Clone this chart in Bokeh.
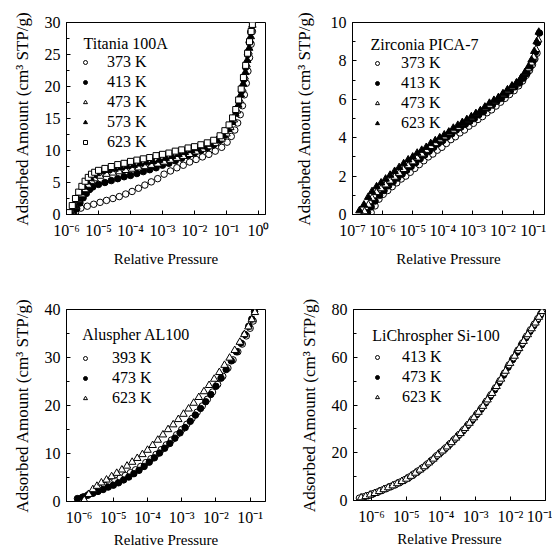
import numpy as np
from bokeh.plotting import figure
from bokeh.models import (Range1d, FixedTicker, SingleIntervalTicker,
                          CustomJSTickFormatter, Legend, LegendItem, Label)
from bokeh.layouts import column, row
from bokeh.embed import file_html
from bokeh.resources import INLINE

FONT = "Liberation Serif"

# ---------------- Titania 100A (log10 relative pressure, cm3 STP/g) ----------------
ti_373_logp = [-5.72, -5.55, -5.35, -5.15, -4.95, -4.75, -4.55, -4.35, -4.15, -3.95, -3.75, -3.55,
               -3.35, -3.15, -2.95, -2.75, -2.55, -2.35, -2.15, -1.95, -1.75, -1.55, -1.35, -1.15,
               -0.98, -0.85, -0.74, -0.65, -0.57, -0.5, -0.44, -0.38, -0.33, -0.28, -0.23, -0.19]
ti_373_amt = [0.3, 1.0, 1.3, 1.6, 1.9, 2.2, 2.5, 2.8, 3.2, 3.6, 4.1, 4.6,
              5.1, 5.6, 6.3, 6.8, 7.3, 7.7, 8.2, 8.6, 9.0, 9.4, 9.9, 10.5,
              11.3, 12.2, 13.2, 14.3, 15.6, 17.0, 18.7, 20.5, 22.4, 24.5, 26.6, 28.6]
ti_413_logp = [-5.78, -5.68, -5.58, -5.48, -5.38, -5.28, -5.18, -5.0, -4.8, -4.6, -4.4, -4.2,
               -4.0, -3.8, -3.6, -3.4, -3.2, -3.0, -2.8, -2.6, -2.4, -2.2, -2.0, -1.8,
               -1.6, -1.4, -1.2, -1.05, -0.92, -0.8, -0.7, -0.61, -0.53, -0.46, -0.4, -0.34,
               -0.29, -0.24, -0.19]
ti_413_amt = [0.1, 0.9, 1.8, 2.6, 3.3, 3.9, 4.3, 4.7, 5.0, 5.3, 5.6, 5.9,
              6.1, 6.4, 6.7, 7.0, 7.3, 7.7, 8.0, 8.4, 8.8, 9.2, 9.6, 10.0,
              10.4, 10.9, 11.6, 12.4, 13.4, 14.6, 16.0, 17.6, 19.3, 21.1, 23.0, 25.0,
              26.9, 28.5, 30.0]
ti_473_logp = [-5.82, -5.72, -5.62, -5.52, -5.42, -5.32, -5.22, -5.12, -4.95, -4.75, -4.55, -4.35,
               -4.15, -3.95, -3.75, -3.55, -3.35, -3.15, -2.95, -2.75, -2.55, -2.35, -2.15, -1.95,
               -1.75, -1.55, -1.35, -1.15, -1.0, -0.88, -0.77, -0.67, -0.58, -0.5, -0.43, -0.37,
               -0.31, -0.26, -0.21]
ti_473_amt = [0.2, 1.2, 2.2, 3.1, 3.9, 4.6, 5.2, 5.6, 6.0, 6.3, 6.5, 6.7,
              6.9, 7.1, 7.3, 7.5, 7.7, 7.9, 8.2, 8.5, 8.8, 9.1, 9.4, 9.8,
              10.2, 10.6, 11.1, 11.8, 12.6, 13.6, 14.8, 16.2, 17.8, 19.6, 21.5, 23.4,
              25.4, 27.2, 29.0]
ti_573_logp = [-5.85, -5.75, -5.65, -5.55, -5.45, -5.35, -5.25, -5.15, -5.05, -4.9, -4.7, -4.5,
               -4.3, -4.1, -3.9, -3.7, -3.5, -3.3, -3.1, -2.9, -2.7, -2.5, -2.3, -2.1,
               -1.9, -1.7, -1.5, -1.3, -1.1, -0.95, -0.83, -0.72, -0.63, -0.55, -0.48, -0.41,
               -0.35, -0.29, -0.24, -0.19]
ti_573_amt = [0.2, 1.3, 2.4, 3.4, 4.3, 5.1, 5.7, 6.1, 6.4, 6.7, 6.9, 7.1,
              7.3, 7.5, 7.7, 7.9, 8.1, 8.3, 8.5, 8.8, 9.1, 9.4, 9.7, 10.0,
              10.3, 10.6, 11.0, 11.6, 12.4, 13.3, 14.4, 15.7, 17.1, 18.7, 20.4, 22.2,
              24.1, 26.0, 27.8, 29.6]
ti_623_logp = [-5.92, -5.82, -5.72, -5.62, -5.52, -5.42, -5.32, -5.22, -5.12, -5.0, -4.8, -4.6,
               -4.4, -4.2, -4.0, -3.8, -3.6, -3.4, -3.2, -3.0, -2.8, -2.6, -2.4, -2.2,
               -2.0, -1.8, -1.6, -1.4, -1.2, -1.05, -0.92, -0.81, -0.71, -0.62, -0.54, -0.47,
               -0.4, -0.34, -0.28, -0.23, -0.19]
ti_623_amt = [0.3, 1.4, 2.5, 3.5, 4.4, 5.2, 5.8, 6.3, 6.6, 6.9, 7.2, 7.5,
              7.8, 8.0, 8.3, 8.5, 8.7, 8.9, 9.2, 9.4, 9.6, 9.9, 10.1, 10.4,
              10.6, 10.9, 11.2, 11.6, 12.3, 13.1, 14.0, 15.1, 16.4, 17.9, 19.6, 21.4,
              23.3, 25.2, 27.0, 28.6, 29.7]

# ---------------- Zirconia PICA-7 ----------------
zr_373_logp = [-6.38, -6.25, -6.12, -5.98, -5.83, -5.68, -5.53, -5.38, -5.23, -5.08, -4.93, -4.78,
               -4.63, -4.48, -4.33, -4.18, -4.03, -3.88, -3.73, -3.58, -3.43, -3.28, -3.13, -2.98,
               -2.83, -2.68, -2.53, -2.38, -2.23, -2.08, -1.93, -1.78, -1.63, -1.48, -1.35, -1.23,
               -1.12, -1.02, -0.94, -0.87]
zr_373_amt = [0.1, 0.45, 0.8, 1.05, 1.25, 1.45, 1.65, 1.85, 2.0, 2.2, 2.4, 2.6,
              2.8, 3.0, 3.15, 3.35, 3.5, 3.7, 3.9, 4.05, 4.25, 4.4, 4.6, 4.75,
              4.95, 5.1, 5.3, 5.45, 5.65, 5.85, 6.05, 6.25, 6.45, 6.7, 6.95, 7.25,
              7.5, 7.8, 8.1, 8.4]
zr_413_logp = [-6.5, -6.38, -6.25, -6.1, -5.95, -5.8, -5.65, -5.5, -5.35, -5.2, -5.05, -4.9,
               -4.75, -4.6, -4.45, -4.3, -4.15, -4.0, -3.85, -3.7, -3.55, -3.4, -3.25, -3.1,
               -2.95, -2.8, -2.65, -2.5, -2.35, -2.2, -2.05, -1.9, -1.75, -1.6, -1.45, -1.32,
               -1.2, -1.1, -1.0, -0.92, -0.85, -0.79]
zr_413_amt = [0.1, 0.4, 0.7, 1.0, 1.25, 1.5, 1.7, 1.9, 2.1, 2.3, 2.5, 2.7,
              2.9, 3.1, 3.3, 3.5, 3.7, 3.85, 4.05, 4.2, 4.4, 4.55, 4.7, 4.85,
              5.0, 5.2, 5.35, 5.55, 5.7, 5.9, 6.05, 6.25, 6.45, 6.65, 6.85, 7.1,
              7.35, 7.65, 8.0, 8.45, 8.95, 9.45]
zr_473_logp = [-6.6, -6.47, -6.35, -6.2, -6.05, -5.9, -5.75, -5.6, -5.45, -5.3, -5.15, -5.0,
               -4.85, -4.7, -4.55, -4.4, -4.25, -4.1, -3.95, -3.8, -3.65, -3.5, -3.35, -3.2,
               -3.05, -2.9, -2.75, -2.6, -2.45, -2.3, -2.15, -2.0, -1.85, -1.7, -1.55, -1.4,
               -1.27, -1.16, -1.06, -0.98, -0.9, -0.83]
zr_473_amt = [0.15, 0.5, 0.85, 1.15, 1.35, 1.55, 1.75, 1.95, 2.15, 2.35, 2.55, 2.75,
              2.95, 3.15, 3.35, 3.55, 3.7, 3.9, 4.05, 4.25, 4.4, 4.55, 4.75, 4.9,
              5.05, 5.25, 5.4, 5.55, 5.7, 5.9, 6.05, 6.25, 6.45, 6.65, 6.85, 7.1,
              7.35, 7.6, 7.9, 8.2, 8.6, 9.1]
zr_623_logp = [-6.77, -6.62, -6.48, -6.35, -6.2, -6.05, -5.9, -5.75, -5.6, -5.45, -5.3, -5.15,
               -5.0, -4.85, -4.7, -4.55, -4.4, -4.25, -4.1, -3.95, -3.8, -3.65, -3.5, -3.35,
               -3.2, -3.05, -2.9, -2.75, -2.6, -2.45, -2.3, -2.15, -2.0, -1.85, -1.7, -1.55,
               -1.4, -1.27, -1.15, -1.05, -0.96, -0.88, -0.81]
zr_623_amt = [0.2, 0.5, 0.9, 1.2, 1.45, 1.65, 1.85, 2.05, 2.25, 2.45, 2.65, 2.85,
              3.0, 3.2, 3.35, 3.5, 3.7, 3.85, 4.0, 4.15, 4.3, 4.5, 4.65, 4.8,
              4.95, 5.1, 5.25, 5.4, 5.6, 5.8, 5.95, 6.1, 6.3, 6.5, 6.7, 6.85,
              7.1, 7.4, 7.7, 8.05, 8.5, 9.0, 9.5]

# ---------------- Aluspher AL100 ----------------
al_393_logp = [-6.0, -5.85, -5.7, -5.55, -5.4, -5.25, -5.1, -4.95, -4.8, -4.65, -4.5, -4.35,
               -4.2, -4.05, -3.9, -3.75, -3.6, -3.45, -3.3, -3.15, -3.0, -2.85, -2.7, -2.55,
               -2.4, -2.25, -2.1, -1.95, -1.8, -1.65, -1.5, -1.36, -1.23, -1.11, -1.0, -0.91]
al_393_amt = [0.5, 1.0, 1.6, 2.2, 2.8, 3.3, 3.9, 4.4, 4.9, 5.4, 6.0, 6.6,
              7.3, 8.1, 8.9, 9.8, 10.8, 11.8, 12.8, 13.9, 15.0, 16.1, 17.3, 18.6,
              19.9, 21.3, 22.8, 24.4, 26.1, 27.8, 29.5, 31.2, 32.8, 34.5, 36.1, 37.6]
al_473_logp = [-6.05, -5.9, -5.75, -5.6, -5.45, -5.3, -5.15, -5.0, -4.85, -4.7, -4.55, -4.4,
               -4.25, -4.1, -3.95, -3.8, -3.65, -3.5, -3.35, -3.2, -3.05, -2.9, -2.75, -2.6,
               -2.45, -2.3, -2.15, -2.0, -1.85, -1.7, -1.55, -1.4, -1.27, -1.15, -1.04, -0.95,
               -0.87]
al_473_amt = [0.6, 0.9, 1.3, 1.7, 2.1, 2.5, 3.0, 3.4, 3.9, 4.5, 5.1, 5.8,
              6.5, 7.3, 8.2, 9.1, 10.1, 11.1, 12.1, 13.2, 14.3, 15.4, 16.7, 18.0,
              19.4, 20.8, 22.3, 24.0, 25.7, 27.5, 29.3, 31.2, 33.0, 34.8, 36.5, 38.0,
              39.6]
al_623_logp = [-5.85, -5.72, -5.6, -5.48, -5.35, -5.2, -5.05, -4.9, -4.75, -4.6, -4.45, -4.3,
               -4.15, -4.0, -3.85, -3.7, -3.55, -3.4, -3.25, -3.1, -2.95, -2.8, -2.65, -2.5,
               -2.35, -2.2, -2.05, -1.9, -1.75, -1.6, -1.45, -1.3, -1.17, -1.05, -0.95, -0.86]
al_623_amt = [0.3, 1.5, 2.5, 3.2, 3.9, 4.5, 5.2, 5.9, 6.6, 7.4, 8.2, 9.0,
              9.8, 10.7, 11.7, 12.8, 13.9, 15.0, 16.0, 17.1, 18.2, 19.3, 20.5, 21.7,
              22.9, 24.2, 25.5, 26.9, 28.4, 29.9, 31.5, 33.2, 34.8, 36.4, 37.9, 39.4]

# ---------------- LiChrospher Si-100 ----------------
si_413_logp = [-6.35, -6.2, -6.07, -5.94, -5.81, -5.68, -5.55, -5.42, -5.29, -5.16, -5.03, -4.9,
               -4.77, -4.64, -4.51, -4.38, -4.25, -4.12, -3.99, -3.86, -3.73, -3.6, -3.47, -3.34,
               -3.21, -3.08, -2.95, -2.82, -2.69, -2.56, -2.43, -2.3, -2.17, -2.04, -1.91, -1.78,
               -1.65, -1.53, -1.42, -1.31, -1.21, -1.12]
si_413_amt = [1.0, 1.6, 2.2, 2.9, 3.6, 4.4, 5.2, 6.0, 6.9, 7.8, 8.8, 9.9,
              11.2, 12.5, 13.9, 15.4, 17.0, 18.8, 20.4, 22.1, 23.9, 25.8, 27.7, 29.7,
              31.9, 34.2, 36.5, 38.9, 41.6, 44.3, 47.2, 50.2, 53.4, 56.8, 59.8, 63.0,
              66.0, 68.9, 71.5, 73.9, 76.2, 78.3]
si_473_logp = [-6.24, -6.1, -5.97, -5.84, -5.71, -5.58, -5.45, -5.32, -5.19, -5.06, -4.93, -4.8,
               -4.67, -4.54, -4.41, -4.28, -4.15, -4.02, -3.89, -3.76, -3.63, -3.5, -3.37, -3.24,
               -3.11, -2.98, -2.85, -2.72, -2.59, -2.46, -2.33, -2.2, -2.07, -1.94, -1.81, -1.68,
               -1.56, -1.44, -1.33, -1.23, -1.14]
si_473_amt = [1.4, 2.0, 2.7, 3.4, 4.2, 5.0, 5.8, 6.6, 7.5, 8.5, 9.6, 10.8,
              12.1, 13.5, 15.0, 16.6, 18.3, 20.0, 21.6, 23.4, 25.3, 27.2, 29.1, 31.3,
              33.5, 35.9, 38.2, 40.8, 43.5, 46.3, 49.3, 52.5, 55.8, 59.0, 62.1, 65.2,
              68.1, 70.8, 73.2, 75.5, 77.6]
si_623_logp = [-6.3, -6.17, -6.04, -5.91, -5.78, -5.65, -5.52, -5.39, -5.26, -5.13, -5.0, -4.87,
               -4.74, -4.61, -4.48, -4.35, -4.22, -4.09, -3.96, -3.83, -3.7, -3.57, -3.44, -3.31,
               -3.18, -3.05, -2.92, -2.79, -2.66, -2.53, -2.4, -2.27, -2.14, -2.01, -1.88, -1.75,
               -1.62, -1.5, -1.39, -1.28, -1.18, -1.09]
si_623_amt = [1.2, 1.7, 2.4, 3.0, 3.8, 4.6, 5.4, 6.2, 7.1, 8.0, 9.0, 10.2,
              11.5, 12.8, 14.2, 15.8, 17.4, 19.2, 20.8, 22.5, 24.3, 26.2, 28.1, 30.2,
              32.4, 34.7, 37.0, 39.5, 42.2, 44.9, 47.8, 50.9, 54.2, 57.5, 60.5, 63.7,
              66.7, 69.5, 72.0, 74.4, 76.8, 79.2]

# ---------------- axis settings ----------------
ti_xexp = [-6, -5, -4, -3, -2, -1, 0]
zr_xexp = [-7, -6, -5, -4, -3, -2, -1]
al_xexp = [-6, -5, -4, -3, -2, -1]
si_xexp = [-6, -5, -4, -3, -2, -1]

STY = {
    "oc": dict(marker="circle", fill_color="white", size=6.5),
    "fc": dict(marker="circle", fill_color="black", size=6.5),
    "ot": dict(marker="triangle", fill_color="white", size=7.5),
    "ft": dict(marker="triangle", fill_color="black", size=7.5),
    "os": dict(marker="square", fill_color="white", size=6.0),
}

SUP_JS = """
const sup = {'-':'\u207b','0':'\u2070','1':'\u00b9','2':'\u00b2','3':'\u00b3','4':'\u2074',
             '5':'\u2075','6':'\u2076','7':'\u2077','8':'\u2078','9':'\u2079'};
const e = Math.round(Math.log10(tick));
return '10' + String(e).split('').map(c => sup[c]).join('');
"""


def panel(fw, fh, bl, br, bt, bb, xlo, xhi, ymax, yint, xexp, title, series, draw_order,
          title_xy, leg_x, leg_top, glyph_w, standoff, ylab_standoff, xlab_standoff):
    p = figure(frame_width=fw, frame_height=fh, min_border_left=bl, min_border_right=br,
               min_border_top=bt, min_border_bottom=bb,
               x_axis_type="log", x_range=Range1d(10 ** xlo, 10 ** xhi),
               y_range=Range1d(0, ymax), output_backend="svg", toolbar_location=None)
    p.xgrid.grid_line_color = None
    p.ygrid.grid_line_color = None
    p.outline_line_color = "black"
    p.outline_line_alpha = 1.0
    p.background_fill_color = "white"
    p.border_fill_color = "white"

    p.xaxis.ticker = FixedTicker(ticks=[10.0 ** e for e in xexp], minor_ticks=[])
    p.xaxis.formatter = CustomJSTickFormatter(code=SUP_JS)
    p.yaxis.ticker = SingleIntervalTicker(interval=yint, num_minor_ticks=2)
    for ax in (p.xaxis[0], p.yaxis[0]):
        ax.axis_line_color = "black"
        ax.major_tick_in = 4
        ax.major_tick_out = 0
        ax.major_tick_line_color = "black"
        ax.minor_tick_in = 3
        ax.minor_tick_out = 0
        ax.minor_tick_line_color = "black"
        ax.major_label_text_font = FONT
        ax.major_label_text_font_size = "16px"
        ax.major_label_text_color = "black"
        ax.axis_label_text_font = FONT
        ax.axis_label_text_font_style = "normal"
        ax.axis_label_text_color = "black"
    p.xaxis.axis_label_text_font_size = "15px"
    p.yaxis.axis_label_text_font_size = "17px"
    p.xaxis.minor_tick_line_color = None
    p.xaxis.major_label_standoff = 7
    p.yaxis.major_label_standoff = 6
    p.xaxis.axis_label = "Relative Pressure"
    p.yaxis.axis_label = "Adsorbed Amount (cm\u00b3 STP/g)"
    p.xaxis.axis_label_standoff = xlab_standoff
    p.yaxis.axis_label_standoff = ylab_standoff

    renders = {}
    for idx in draw_order:
        lab, logp, amt, sty = series[idx]
        renders[lab] = p.scatter(x=10.0 ** np.array(logp), y=amt, line_color="black",
                                 line_width=1, **STY[sty])
    items = [LegendItem(label=s[0], renderers=[renders[s[0]]]) for s in series]

    leg_h = 20 * len(items)
    leg = Legend(items=items, location=(leg_x, fh - leg_top - leg_h), padding=0, margin=0,
                 spacing=0, label_height=20, glyph_height=20, glyph_width=int(glyph_w),
                 label_standoff=int(round(standoff)), label_text_font=FONT,
                 label_text_font_size="16px", label_text_color="black",
                 background_fill_alpha=0, border_line_color=None)
    p.add_layout(leg, "center")
    p.add_layout(Label(x=title_xy[0], y=fh - title_xy[1], x_units="screen", y_units="screen",
                       text=title, text_font=FONT, text_font_size="16px", text_color="black",
                       text_baseline="middle", text_align="left"))
    return p


p1 = panel(199, 192, 66, 15, 22, 66, -6, 0.22, 30, 5, ti_xexp, "Titania 100A",
           [("373 K", ti_373_logp, ti_373_amt, "oc"),
            ("413 K", ti_413_logp, ti_413_amt, "fc"),
            ("473 K", ti_473_logp, ti_473_amt, "ot"),
            ("573 K", ti_573_logp, ti_573_amt, "ft"),
            ("623 K", ti_623_logp, ti_623_amt, "os")], [0, 1, 2, 3, 4],
           (17, 21), 14, 29.7, 10, 17, 10, 9)
p2 = panel(192, 192, 72, 8, 21, 67, -7.0, -0.62, 10, 2, zr_xexp, "Zirconia PICA-7",
           [("373 K", zr_373_logp, zr_373_amt, "oc"),
            ("413 K", zr_413_logp, zr_413_amt, "fc"),
            ("473 K", zr_473_logp, zr_473_amt, "ot"),
            ("623 K", zr_623_logp, zr_623_amt, "ft")], [0, 1, 2, 3],
           (18, 22), 20, 30.7, 10, 19, 14, 9)
p3 = panel(199, 192, 66, 15, 28, 47, -6.37, -0.55, 40, 10, al_xexp, "Aluspher AL100",
           [("393 K", al_393_logp, al_393_amt, "oc"),
            ("473 K", al_473_logp, al_473_amt, "fc"),
            ("623 K", al_623_logp, al_623_amt, "ot")], [0, 1, 2],
           (15.7, 25), 14, 38.7, 10, 22, 10, 3)
p4 = panel(192, 191, 73, 7, 29, 47, -6.52, -0.99, 80, 20, si_xexp, "LiChrospher Si-100",
           [("413 K", si_413_logp, si_413_amt, "oc"),
            ("473 K", si_473_logp, si_473_amt, "fc"),
            ("623 K", si_623_logp, si_623_amt, "ot")], [1, 0, 2],
           (18.7, 26), 19, 37.7, 10, 20, 10, 3)

layout = column(row(p1, p2), row(p3, p4))
open("out.html", "w").write(file_html(layout, INLINE))
